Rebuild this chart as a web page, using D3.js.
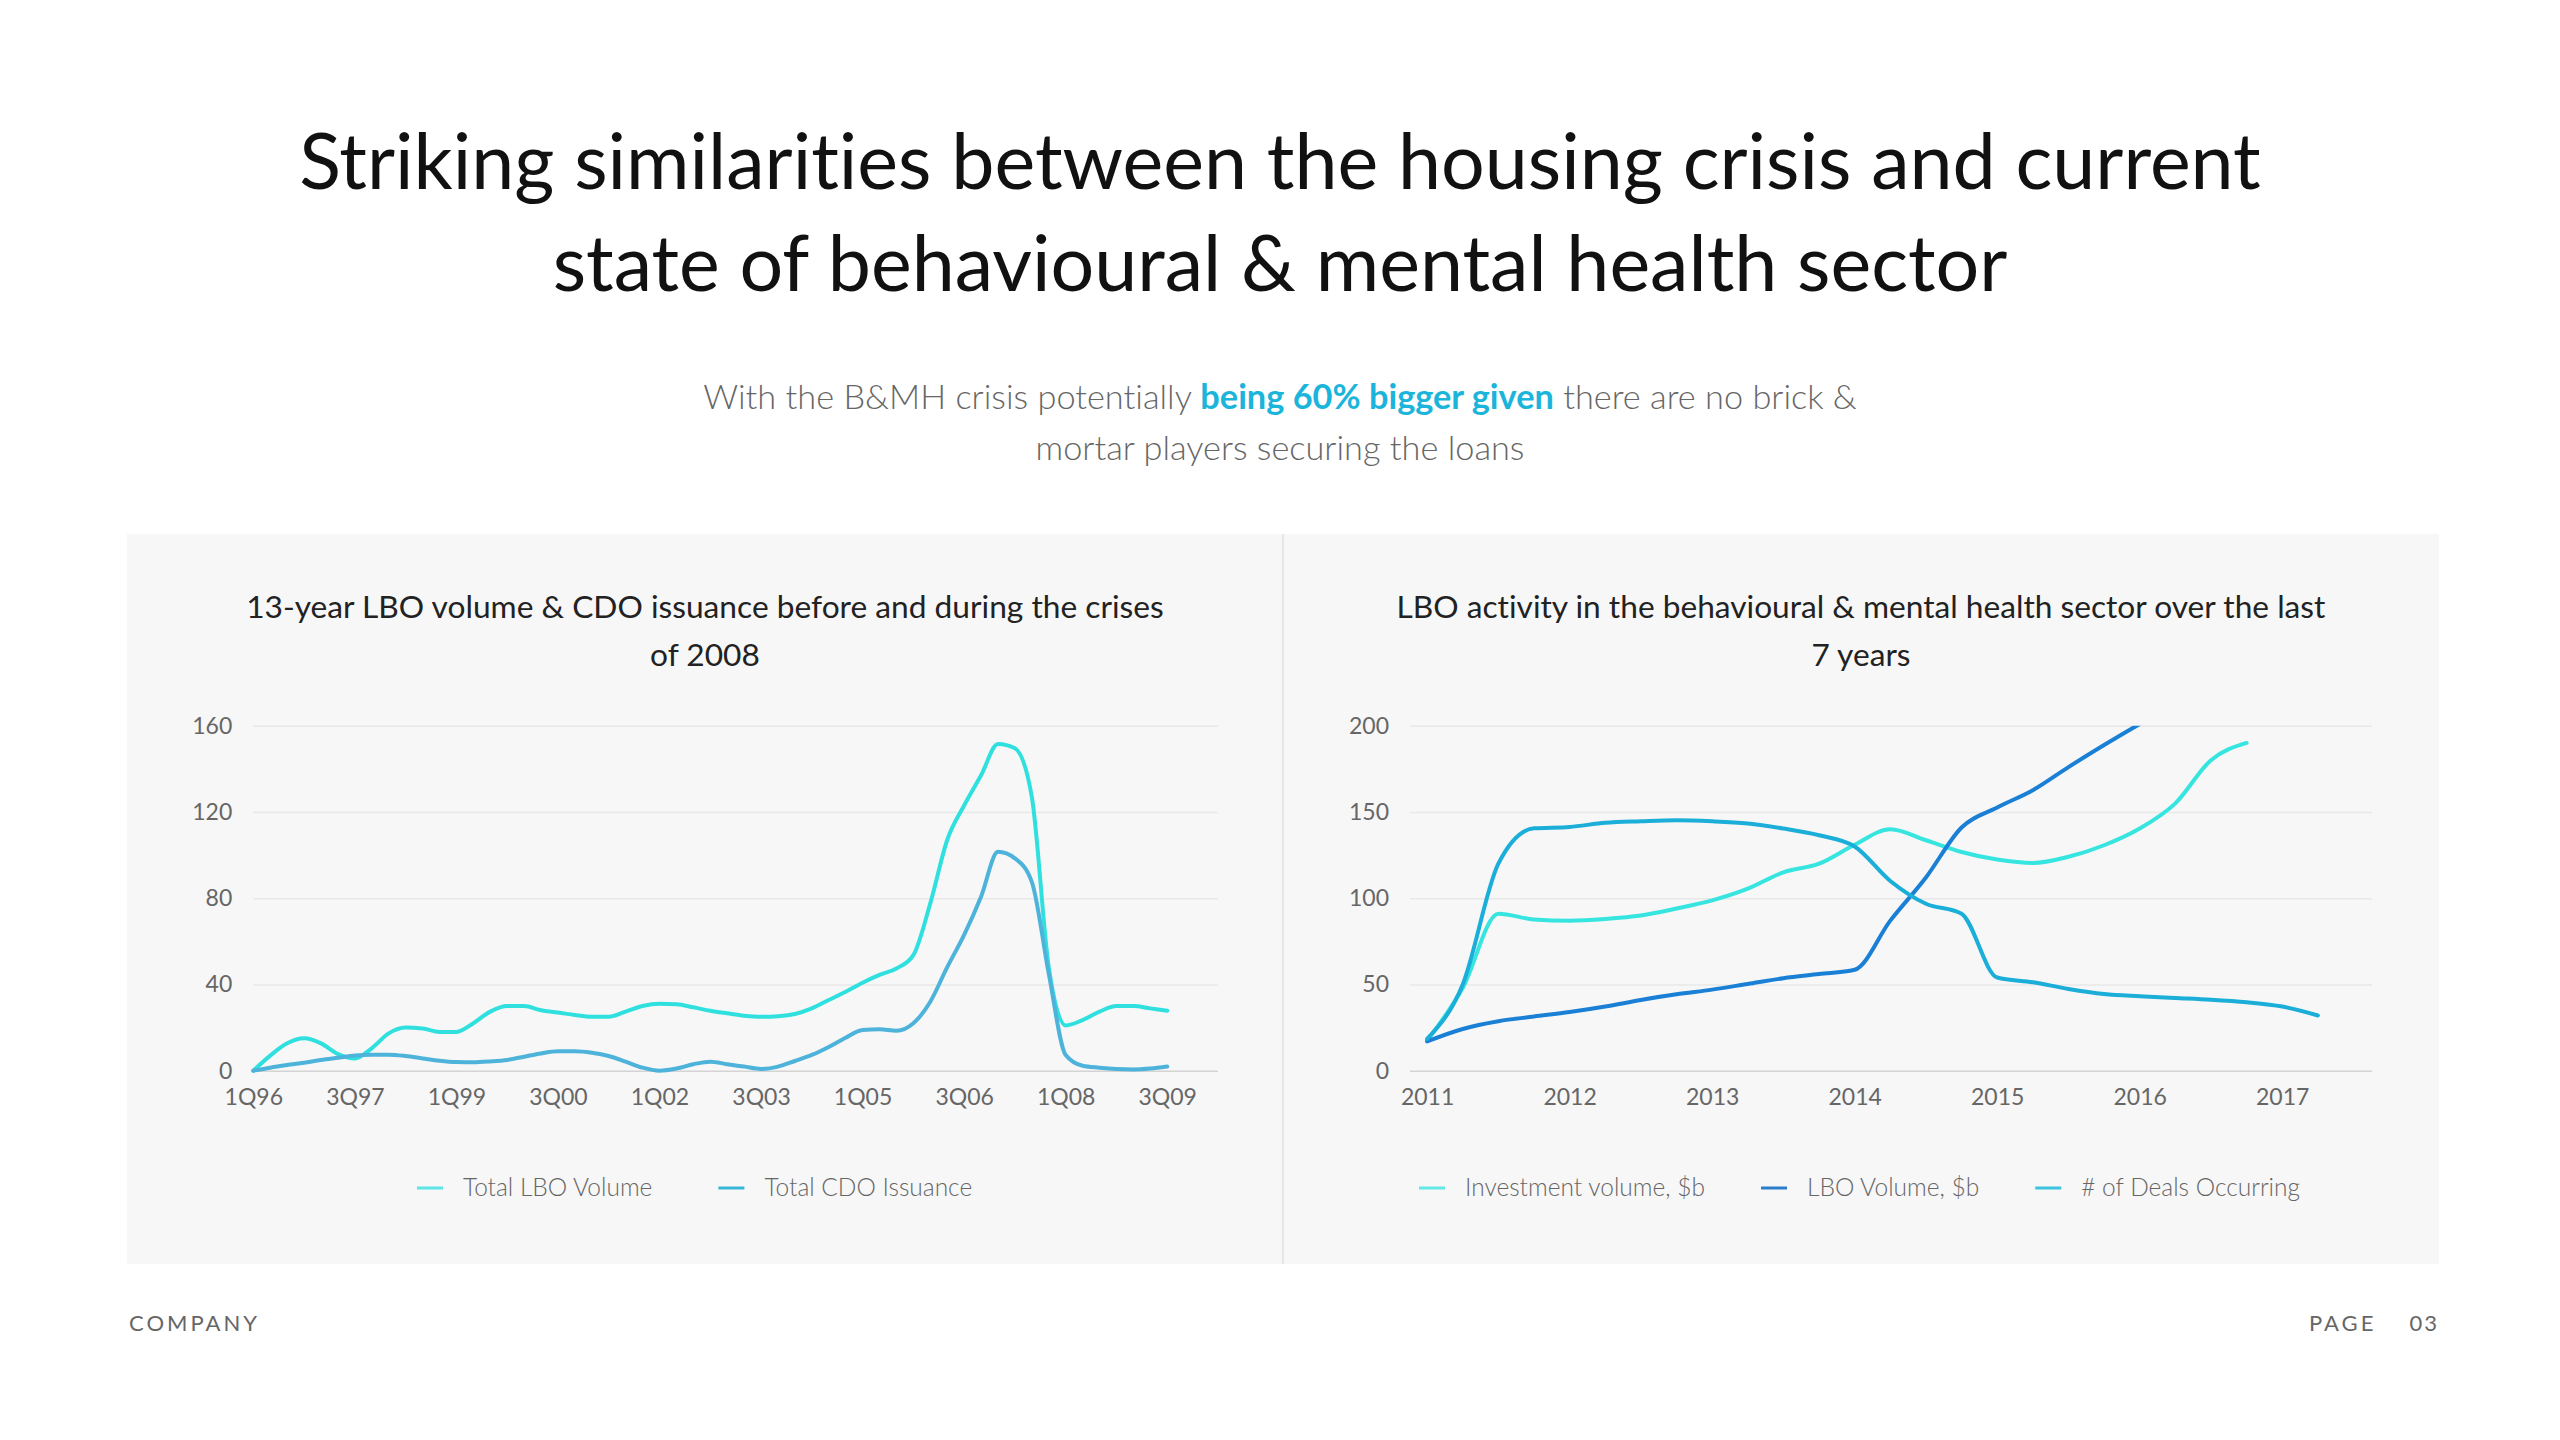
<!DOCTYPE html>
<html>
<head>
<meta charset="utf-8">
<script src="https://cdnjs.cloudflare.com/ajax/libs/d3/7.8.5/d3.min.js"></script>
<style>
body { margin: 0; background: #fff; }
svg { display: block; font-family: Lato, 'Open Sans', sans-serif; font-variant-ligatures: none; }
</style>
</head>
<body>
<svg id="chart" width="2560" height="1440"></svg>
<script>
// left chart: quarterly, 1Q96 .. 3Q09
const quarterTicks = [0, 6, 12, 18, 24, 30, 36, 42, 48, 54];
const quarterLabels = ['1Q96', '3Q97', '1Q99', '3Q00', '1Q02', '3Q03', '1Q05', '3Q06', '1Q08', '3Q09'];
const totalLBO = [0, 7, 12.7, 15, 12.7, 7.7, 5.7, 10.4, 17.3, 20,
    19.6, 18, 18, 22, 27.4, 30, 30, 28, 27, 25.8,
    25, 25, 27.4, 30, 31, 30.8, 29.4, 27.8, 26.6, 25.5,
    25, 25.3, 26.3, 28.9, 32.8, 36.6, 40.8, 44.4, 47.4, 53.6,
    77.6, 107, 123, 137, 151.5, 149.5, 127, 48, 21, 23.5,
    27.4, 30, 30, 28.9, 27.8];
const totalCDO = [0, 1.4, 2.6, 3.7, 5, 6, 7, 7.4, 7.4, 6.8,
    5.7, 4.6, 4, 3.9, 4.3, 5, 6.5, 8, 9, 9,
    8.3, 6.8, 4.2, 1.4, 0, 1, 3, 4.2, 3, 1.9,
    0.8, 1.9, 4.5, 7.3, 11, 15.3, 18.9, 19.2, 18.5, 22,
    32, 48, 63, 80.7, 101.5, 98.5, 87.6, 45, 7.3, 2.3,
    1.4, 0.8, 0.6, 1, 1.9];
const leftYTicks = [0, 40, 80, 120, 160];

// right chart: quarterly from 2011
const yearTicks = [2011, 2012, 2013, 2014, 2015, 2016, 2017];
const investmentVolume = [17.4, 48, 91, 87.7, 87, 88, 90, 94, 98.7, 105.5, 115, 120,
    131, 140, 133.6, 126.8, 122.4, 120.4, 124, 130.7, 140.4, 155, 180, 190];
const lboVolume = [17, 24.2, 28.7, 31.4, 34, 37.2, 41, 44.3, 47, 50.3, 53.6, 56,
    58.5, 87, 112, 141, 152.6, 162.6, 176, 188.8, 201];
const dealsOccurring = [18.4, 50, 120, 140.5, 141.3, 143.7, 144.6, 145.2, 144.6, 143.3, 140.4, 136.5,
    130, 110, 96.8, 91, 54, 51.3, 47.4, 44.5, 43.2, 42.2, 41.2, 39.7, 37.2, 32];
const rightYTicks = [0, 50, 100, 150, 200];

const svg = d3.select('#chart');

function fit(sel, target) {
    const w = sel.node().getComputedTextLength();
    const fs = parseFloat(sel.attr('font-size'));
    const nfs = fs * target / w;
    sel.attr('font-size', nfs);
    return nfs;
}

// heading
const t1 = svg.append('text').attr('x', 1280).attr('y', 189).attr('text-anchor', 'middle')
    .attr('font-size', 75).attr('fill', '#111')
    .text('Striking similarities between the housing crisis and current');
const titleSize = fit(t1, 1962);
svg.append('text').attr('x', 1280).attr('y', 291).attr('text-anchor', 'middle')
    .attr('font-size', titleSize).attr('fill', '#111')
    .text('state of behavioural & mental health sector');

const s1 = svg.append('text').attr('x', 1280).attr('y', 409).attr('text-anchor', 'middle')
    .attr('font-size', 33).attr('font-weight', 300).attr('fill', '#666');
s1.append('tspan').text('With the B&MH crisis potentially ');
s1.append('tspan').attr('font-weight', 700).attr('fill', '#1bb4da').text('being 60% bigger given');
s1.append('tspan').text(' there are no brick &');
const subSize = fit(s1, 1154);
svg.append('text').attr('x', 1280).attr('y', 460).attr('text-anchor', 'middle')
    .attr('font-size', subSize).attr('font-weight', 300).attr('fill', '#666')
    .text('mortar players securing the loans');

// panel
svg.append('rect').attr('x', 127).attr('y', 534).attr('width', 2312).attr('height', 730).attr('fill', '#f7f7f7');
svg.append('line').attr('x1', 1283).attr('x2', 1283).attr('y1', 534).attr('y2', 1264)
    .attr('stroke', '#e6e6e6').attr('stroke-width', 2);

// footer
svg.append('text').attr('x', 129).attr('y', 1331).attr('font-size', 22).attr('letter-spacing', 3)
    .attr('fill', '#666').text('COMPANY');
svg.append('text').attr('x', 2309).attr('y', 1331).attr('font-size', 22).attr('letter-spacing', 3)
    .attr('fill', '#666').text('PAGE');
svg.append('text').attr('x', 2439).attr('y', 1331).attr('font-size', 22).attr('letter-spacing', 2)
    .attr('text-anchor', 'end').attr('fill', '#666').text('03');

const yTop = 725.7, yBottom = 1070.7;

function drawChart(cfg) {
    const g = svg.append('g');

    const ct = g.append('text').attr('x', cfg.cx).attr('y', 618).attr('text-anchor', 'middle')
        .attr('font-size', 30).attr('fill', '#222').text(cfg.title[0]);
    const ctSize = fit(ct, cfg.titleWidth);
    g.append('text').attr('x', cfg.cx).attr('y', 666).attr('text-anchor', 'middle')
        .attr('font-size', ctSize).attr('fill', '#222').text(cfg.title[1]);

    const x = cfg.x;
    const y = d3.scaleLinear().domain(cfg.yDomain).range([yBottom, yTop]);
    const [x0, x1] = x.range();

    // gridlines + y labels
    const ya = g.append('g').attr('transform', `translate(${x0},0)`)
        .call(d3.axisLeft(y).tickValues(cfg.yTicks).tickSize(-(x1 - x0)).tickPadding(21));
    ya.select('.domain').remove();
    ya.selectAll('.tick line').attr('stroke', d => d === 0 ? '#d4d4d4' : '#e8e8e8').attr('stroke-width', 1.5);
    ya.selectAll('.tick text').attr('font-size', 23).attr('fill', '#666').attr('font-family', 'Lato, sans-serif');

    const xa = g.append('g').attr('transform', `translate(0,${yBottom})`)
        .call(d3.axisBottom(x).tickValues(cfg.xTicks).tickFormat(cfg.xFormat).tickSize(0).tickPadding(18));
    xa.select('.domain').remove();
    xa.selectAll('.tick text').attr('font-size', 23).attr('fill', '#666').attr('font-family', 'Lato, sans-serif');

    const clipId = 'clip' + cfg.id;
    g.append('clipPath').attr('id', clipId).append('rect')
        .attr('x', x0 - 10).attr('y', yTop).attr('width', x1 - x0 + 20).attr('height', yBottom - yTop + 10);

    const line = d3.line()
        .x(d => x(d.x))
        .y(d => y(d.v))
        .curve(d3.curveMonotoneX);

    const plot = g.append('g').attr('clip-path', `url(#${clipId})`);
    cfg.series.forEach(s => {
        const pts = s.values.map((v, i) => ({ x: s.xs[i], v: v }));
        plot.append('path').datum(pts)
            .attr('fill', 'none')
            .attr('stroke', s.color)
            .attr('stroke-width', 4)
            .attr('stroke-linejoin', 'round')
            .attr('stroke-linecap', 'round')
            .attr('d', line);
    });

    // legend
    let lx = cfg.legendX;
    const ly = 1188;
    cfg.series.forEach(s => {
        g.append('line').attr('x1', lx).attr('x2', lx + 26).attr('y1', ly).attr('y2', ly)
            .attr('stroke', s.legendColor || s.color).attr('stroke-width', 3);
        const lt = g.append('text').attr('x', lx + 46).attr('y', ly + 8)
            .attr('font-size', 24.5).attr('font-weight', 300).attr('fill', '#666').text(s.name);
        lx += 46 + lt.node().getComputedTextLength() + cfg.legendGap;
    });
}

const leftIdx = totalLBO.map((d, i) => i);
drawChart({
    id: 'L',
    cx: 705,
    title: ['13-year LBO volume & CDO issuance before and during the crises', 'of 2008'],
    titleWidth: 918,
    x: d3.scaleLinear().domain([0, 57]).range([253.3, 1218]),
    xTicks: quarterTicks,
    xFormat: (d, i) => quarterLabels[i],
    yDomain: [0, 160],
    yTicks: leftYTicks,
    legendX: 417,
    legendGap: 66,
    series: [
        { name: 'Total LBO Volume', values: totalLBO, xs: leftIdx, color: '#2fe0df', legendColor: '#5ce6e6' },
        { name: 'Total CDO Issuance', values: totalCDO, xs: leftIdx, color: '#4db3da', legendColor: '#38b6d6' }
    ]
});

const quarterX = n => d3.range(n).map(i => 2011 + i / 4);
drawChart({
    id: 'R',
    cx: 1861,
    title: ['LBO activity in the behavioural & mental health sector over the last', '7 years'],
    titleWidth: 929,
    x: d3.scaleLinear().domain([2010.88, 2017.63]).range([1410, 2372]),
    xTicks: yearTicks,
    xFormat: d => String(d),
    yDomain: [0, 200],
    yTicks: rightYTicks,
    legendX: 1419,
    legendGap: 56,
    series: [
        { name: 'Investment volume, $b', values: investmentVolume, xs: quarterX(investmentVolume.length), color: '#36e5df', legendColor: '#62e9e6' },
        { name: 'LBO Volume, $b', values: lboVolume, xs: quarterX(lboVolume.length), color: '#1a80d6', legendColor: '#2b7ecb' },
        { name: '# of Deals Occurring', values: dealsOccurring, xs: quarterX(dealsOccurring.length), color: '#1aaed8', legendColor: '#3cc3dd' }
    ]
});
</script>
</body>
</html>
